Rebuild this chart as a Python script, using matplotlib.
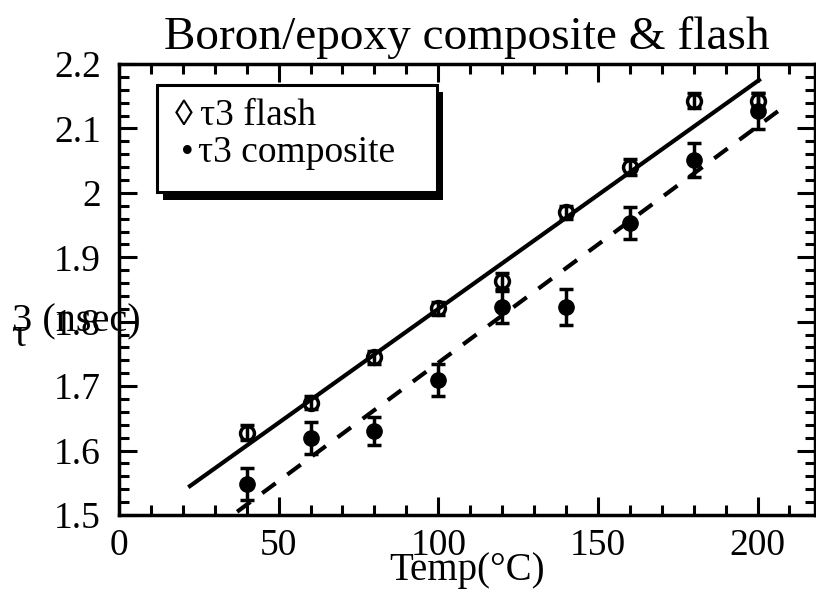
import numpy as np
import matplotlib.pyplot as plt
from matplotlib.patches import Rectangle
from matplotlib.ticker import MultipleLocator

plt.rcParams['font.family'] = ['Liberation Serif', 'DejaVu Serif']

# measured points, temperature in C
temp = np.array([40, 60, 80, 100, 120, 140, 160, 180, 200])
tau3_flash = np.array([1.628, 1.674, 1.745, 1.821, 1.863, 1.970, 2.040, 2.143, 2.143])
err_flash = np.array([0.012, 0.010, 0.010, 0.010, 0.012, 0.010, 0.012, 0.012, 0.012])
tau3_comp = np.array([1.548, 1.620, 1.630, 1.710, 1.823, 1.823, 1.953, 2.051, 2.127])
err_comp = np.array([0.025, 0.025, 0.022, 0.025, 0.025, 0.028, 0.025, 0.027, 0.028])

# fit lines as drawn (end points)
fit_flash_x = [21.7, 201.0]
fit_flash_y = [1.543, 2.177]
fit_comp_x = [37.0, 207.0]
fit_comp_y = [1.505, 2.129]

fig = plt.figure(figsize=(8.16, 6.0), dpi=100)
ax = fig.add_axes([0.1458, 0.1417, 0.853, 0.7516])

ax.plot(fit_flash_x, fit_flash_y, c='k', lw=3, solid_capstyle='butt')
ax.plot(fit_comp_x, fit_comp_y, c='k', lw=3, dashes=(4, 3.5))

ax.errorbar(temp, tau3_flash, yerr=err_flash, fmt='o', ms=10, mfc='none', mec='k',
            mew=2.5, ecolor='k', elinewidth=2.5, capsize=5, capthick=2.5, c='k')
ax.errorbar(temp, tau3_comp, yerr=err_comp, fmt='o', ms=11, mfc='k', mec='k',
            ecolor='k', elinewidth=2.5, capsize=5, capthick=2.5, c='k')

ax.set_xlim(0, 218)
ax.set_ylim(1.5, 2.2)
ax.xaxis.set_major_locator(MultipleLocator(50))
ax.xaxis.set_minor_locator(MultipleLocator(10))
ax.yaxis.set_major_locator(MultipleLocator(0.1))
ax.yaxis.set_minor_locator(MultipleLocator(0.02))
ax.set_yticks(np.arange(1.5, 2.21, 0.1))
ax.set_yticklabels(['1.5', '1.6', '1.7', '1.8', '1.9', '2', '2.1', '2.2'])
ax.tick_params(which='both', direction='in', top=True, right=True, width=2.2, labelsize=27)
ax.tick_params(which='major', length=13, pad=10)
ax.tick_params(axis='y', which='major', pad=13)
ax.tick_params(which='minor', length=7)
for s in ax.spines.values():
    s.set_linewidth(2.5)

ax.set_title('Boron/epoxy composite & flash', fontsize=34, pad=11)
ax.set_xlabel('Temp(°C)', fontsize=28, labelpad=-8)

# y label drawn the way it sits in the original
fig.text(12 / 816, 1 - 331 / 600, '3 (nsec)', fontsize=29, ha='left', va='baseline')
fig.text(11 / 816, 1 - 346 / 600, 'τ', fontsize=29, ha='left', va='baseline')

# legend box with a solid shadow
ax.add_patch(Rectangle((0.063, 0.698), 0.4025, 0.24, transform=ax.transAxes,
                       fc='k', ec='k', lw=0, zorder=5))
ax.add_patch(Rectangle((0.0546, 0.716), 0.4024, 0.237, transform=ax.transAxes,
                       fc='w', ec='k', lw=2.2, zorder=6))
ax.text(0.081, 0.865, '◊', transform=ax.transAxes, fontsize=26, va='baseline', zorder=7)
ax.text(0.089, 0.783, '•', transform=ax.transAxes, fontsize=26, va='baseline', zorder=7)
ax.text(0.116, 0.865, 'τ3 flash', transform=ax.transAxes, fontsize=27, va='baseline', zorder=7)
ax.text(0.113, 0.783, 'τ3 composite', transform=ax.transAxes, fontsize=27, va='baseline', zorder=7)

fig.savefig('out.png', dpi=100)
